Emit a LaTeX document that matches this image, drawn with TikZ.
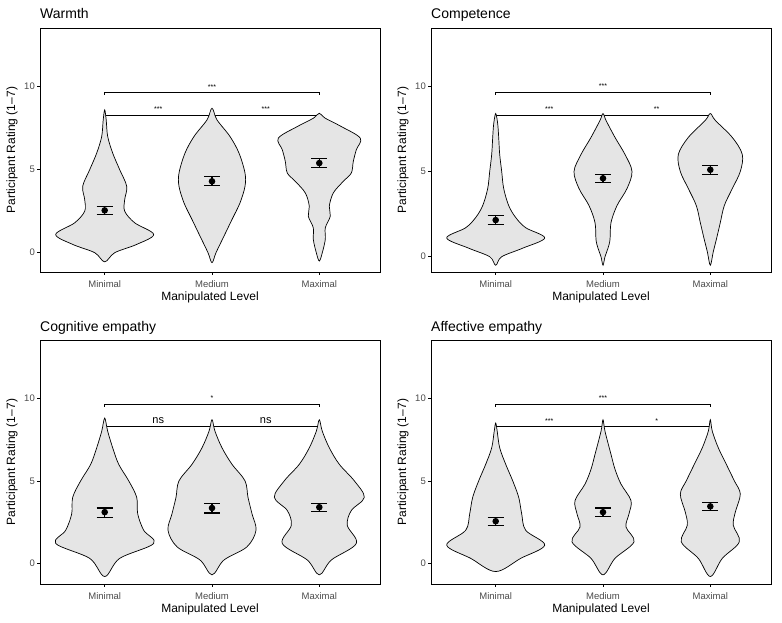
\documentclass[tikz,border=0pt]{standalone}
\usepackage{fontspec}
\setmainfont{Liberation Sans}
\definecolor{vfill}{gray}{0.9}
\definecolor{tickgray}{gray}{0.3}
\tikzset{
  vio/.style={draw=black,fill=vfill,line width=0.7pt},
  ebar/.style={line width=1.1pt},
  frame/.style={draw=black,line width=0.7pt},
  ticklab/.style={font=\fontsize{9.5}{10}\selectfont,text=tickgray,inner sep=0pt},
  axlab/.style={font=\fontsize{12}{13}\selectfont,inner sep=0pt},
  ttl/.style={font=\fontsize{14}{15}\selectfont,inner sep=0pt,anchor=base west},
  star/.style={font=\fontsize{7}{8}\selectfont,inner sep=0pt,anchor=base},
  nslab/.style={font=\fontsize{11}{12}\selectfont,inner sep=0pt,anchor=base},
  brk/.style={line width=0.5pt}
}
\newcommand\vio[4]{%
 \gdef\vR{}\gdef\vL{}%
 \foreach \r/\w in {#4}{\xdef\vR{\vR(#1+\w,\r)}\xdef\vL{(#1-\w,\r)\vL}}%
 \edef\tmp{\noexpand\draw[vio] plot[smooth cycle,tension=0.55] coordinates {(#1,#2)\vR(#1,#3)\vL};}\tmp}
\newcommand\vmean[4]{%
 \draw[ebar] (#1-8,#3)--(#1+8,#3) (#1,#3)--(#1,#4) (#1-8,#4)--(#1+8,#4);
 \fill (#1,#2) circle[radius=3.3pt];}
% #1 ox #2 oy #3 title #4 y0 #5 scale #6 top label #7 left label #8 right label #9 style
\newcommand\panel[9]{%
 \begin{scope}[xshift=#1pt,yshift=-#2pt]
  \draw[frame] (40,28) rectangle (380,272);
  \node[ttl] (t#1#2) at (40,19) {#3};
  \node[axlab,rotate=90] (yl#1#2) at (12,150) {Participant Rating (1–7)};
  \node[axlab] (xl#1#2) at (210,297) {Manipulated Level};
  \node[ticklab] (a#1#2) at (104.7,284) {Minimal};
  \node[ticklab] (b#1#2) at (212,284) {Medium};
  \node[ticklab] (c#1#2) at (319.3,284) {Maximal};
  \foreach \xx in {104.7,212,319.3}{\draw[brk] (\xx,272)--(\xx,275);}
 \end{scope}
 \begin{scope}[xshift=#1pt,yshift=-#2pt-#4pt,x=1pt,y=#5pt]
  \foreach \v in {0,5,10}{\draw[brk] (37,\v)--(40,\v); \node[ticklab,anchor=east] at (35,\v) {\v};}
  \draw[brk] (104.7,9.5)--(104.7,9.65)--(319.3,9.65)--(319.3,9.5);
  \draw[brk] (104.7,8.3)--(319.3,8.3);
  \node[star] (s#1#2) at (212,9.85) {#6};
  \node[#9] (l#1#2) at (158.3,8.5) {#7};
  \node[#9] (r#1#2) at (265.7,8.5) {#8};
  \panelbody
 \end{scope}}
\begin{document}
\begin{tikzpicture}[x=1pt,y=-1pt]
\useasboundingbox (0,0) rectangle (782,623);
\fill[white] (0,0) rectangle (782,623);
% Warmth
\def\panelbody{%
 \vio{104.7}{-0.55}{8.6}{0/10,0.5/32,1.1/49,1.8/30,2.5/20,3.2/20,4/22,5/15,6/8,7/3,8/1.5}
 \vio{212}{-0.6}{8.7}{0/4,1/12,2/20,3/28,4/33,4.8/33,6/27,7/18,8/5}
 \vio{319.3}{-0.5}{8.4}{0/3,0.8/6,1.5/6,2.2/11,2.8/10,3.6/14,4.3/24,4.8/32,5.5/34,6.2/37,6.9/41,7.6/22,8.1/6}
 \vmean{104.7}{2.55}{2.3}{2.8}\vmean{212}{4.3}{4.05}{4.6}\vmean{319.3}{5.4}{5.15}{5.65}}
\panel{0}{0}{Warmth}{252.7}{16.6}{***}{***}{***}{star}
% Competence
\def\panelbody{%
 \vio{104.7}{-0.5}{8.4}{0/6,0.5/27,1.1/49,1.7/30,2.3/20,3/13,4/8,5/6,6/4,7/3,7.8/2}
 \vio{212}{-0.5}{8.4}{0/2,0.5/5,1/7,2/8,3/14,4/24,5/29,6/22,7/12,8/3}
 \vio{319.3}{-0.5}{8.4}{0.3/3,1/6,2/10,3/14,4/22,5/30,6/32,7/22,8/5}
 \vmean{104.7}{2.15}{1.9}{2.4}\vmean{212}{4.6}{4.35}{4.85}\vmean{319.3}{5.1}{4.85}{5.35}}
\panel{391}{0}{Competence}{256.7}{17.04}{***}{***}{**}{star}
% Cognitive empathy
\def\panelbody{%
 \vio{104.7}{-0.8}{8.8}{0.3/15,1.2/49,2/39,3/33,4/32,5/24,6/14,7/8,8/3}
 \vio{212}{-0.7}{8.7}{0.2/12,1/35,2/44,3/40,4/36,5/33,6/20,7/10,8/3}
 \vio{319.3}{-0.7}{8.7}{0.2/12,1.2/37,2.3/28,3.2/32,4/45,5/35,6/20,7/10,8/3}
 \vmean{104.7}{3.1}{2.8}{3.35}\vmean{212}{3.35}{3.05}{3.6}\vmean{319.3}{3.4}{3.15}{3.65}}
\panel{0}{312}{Cognitive empathy}{251.3}{16.5}{*}{ns}{ns}{nslab}
% Affective empathy
\def\panelbody{%
 \vio{104.7}{-0.5}{8.5}{0.3/25,1.1/49,2/30,3/26,4/23,5/17,6/10,7/4,8/1.5}
 \vio{212}{-0.7}{8.7}{0.3/12,1.3/31,2.2/23,3/26,3.8/28,4.8/18,5.7/12,6.6/8,8/2}
 \vio{319.3}{-0.8}{8.7}{0.3/12,1.3/29,2.3/23,3.1/25,4.2/30,5/24,6/16,7/8,8/2}
 \vmean{104.7}{2.55}{2.3}{2.8}\vmean{212}{3.1}{2.85}{3.35}\vmean{319.3}{3.45}{3.2}{3.7}}
\panel{391}{312}{Affective empathy}{251.3}{16.5}{***}{***}{*}{star}
\end{tikzpicture}
\end{document}
